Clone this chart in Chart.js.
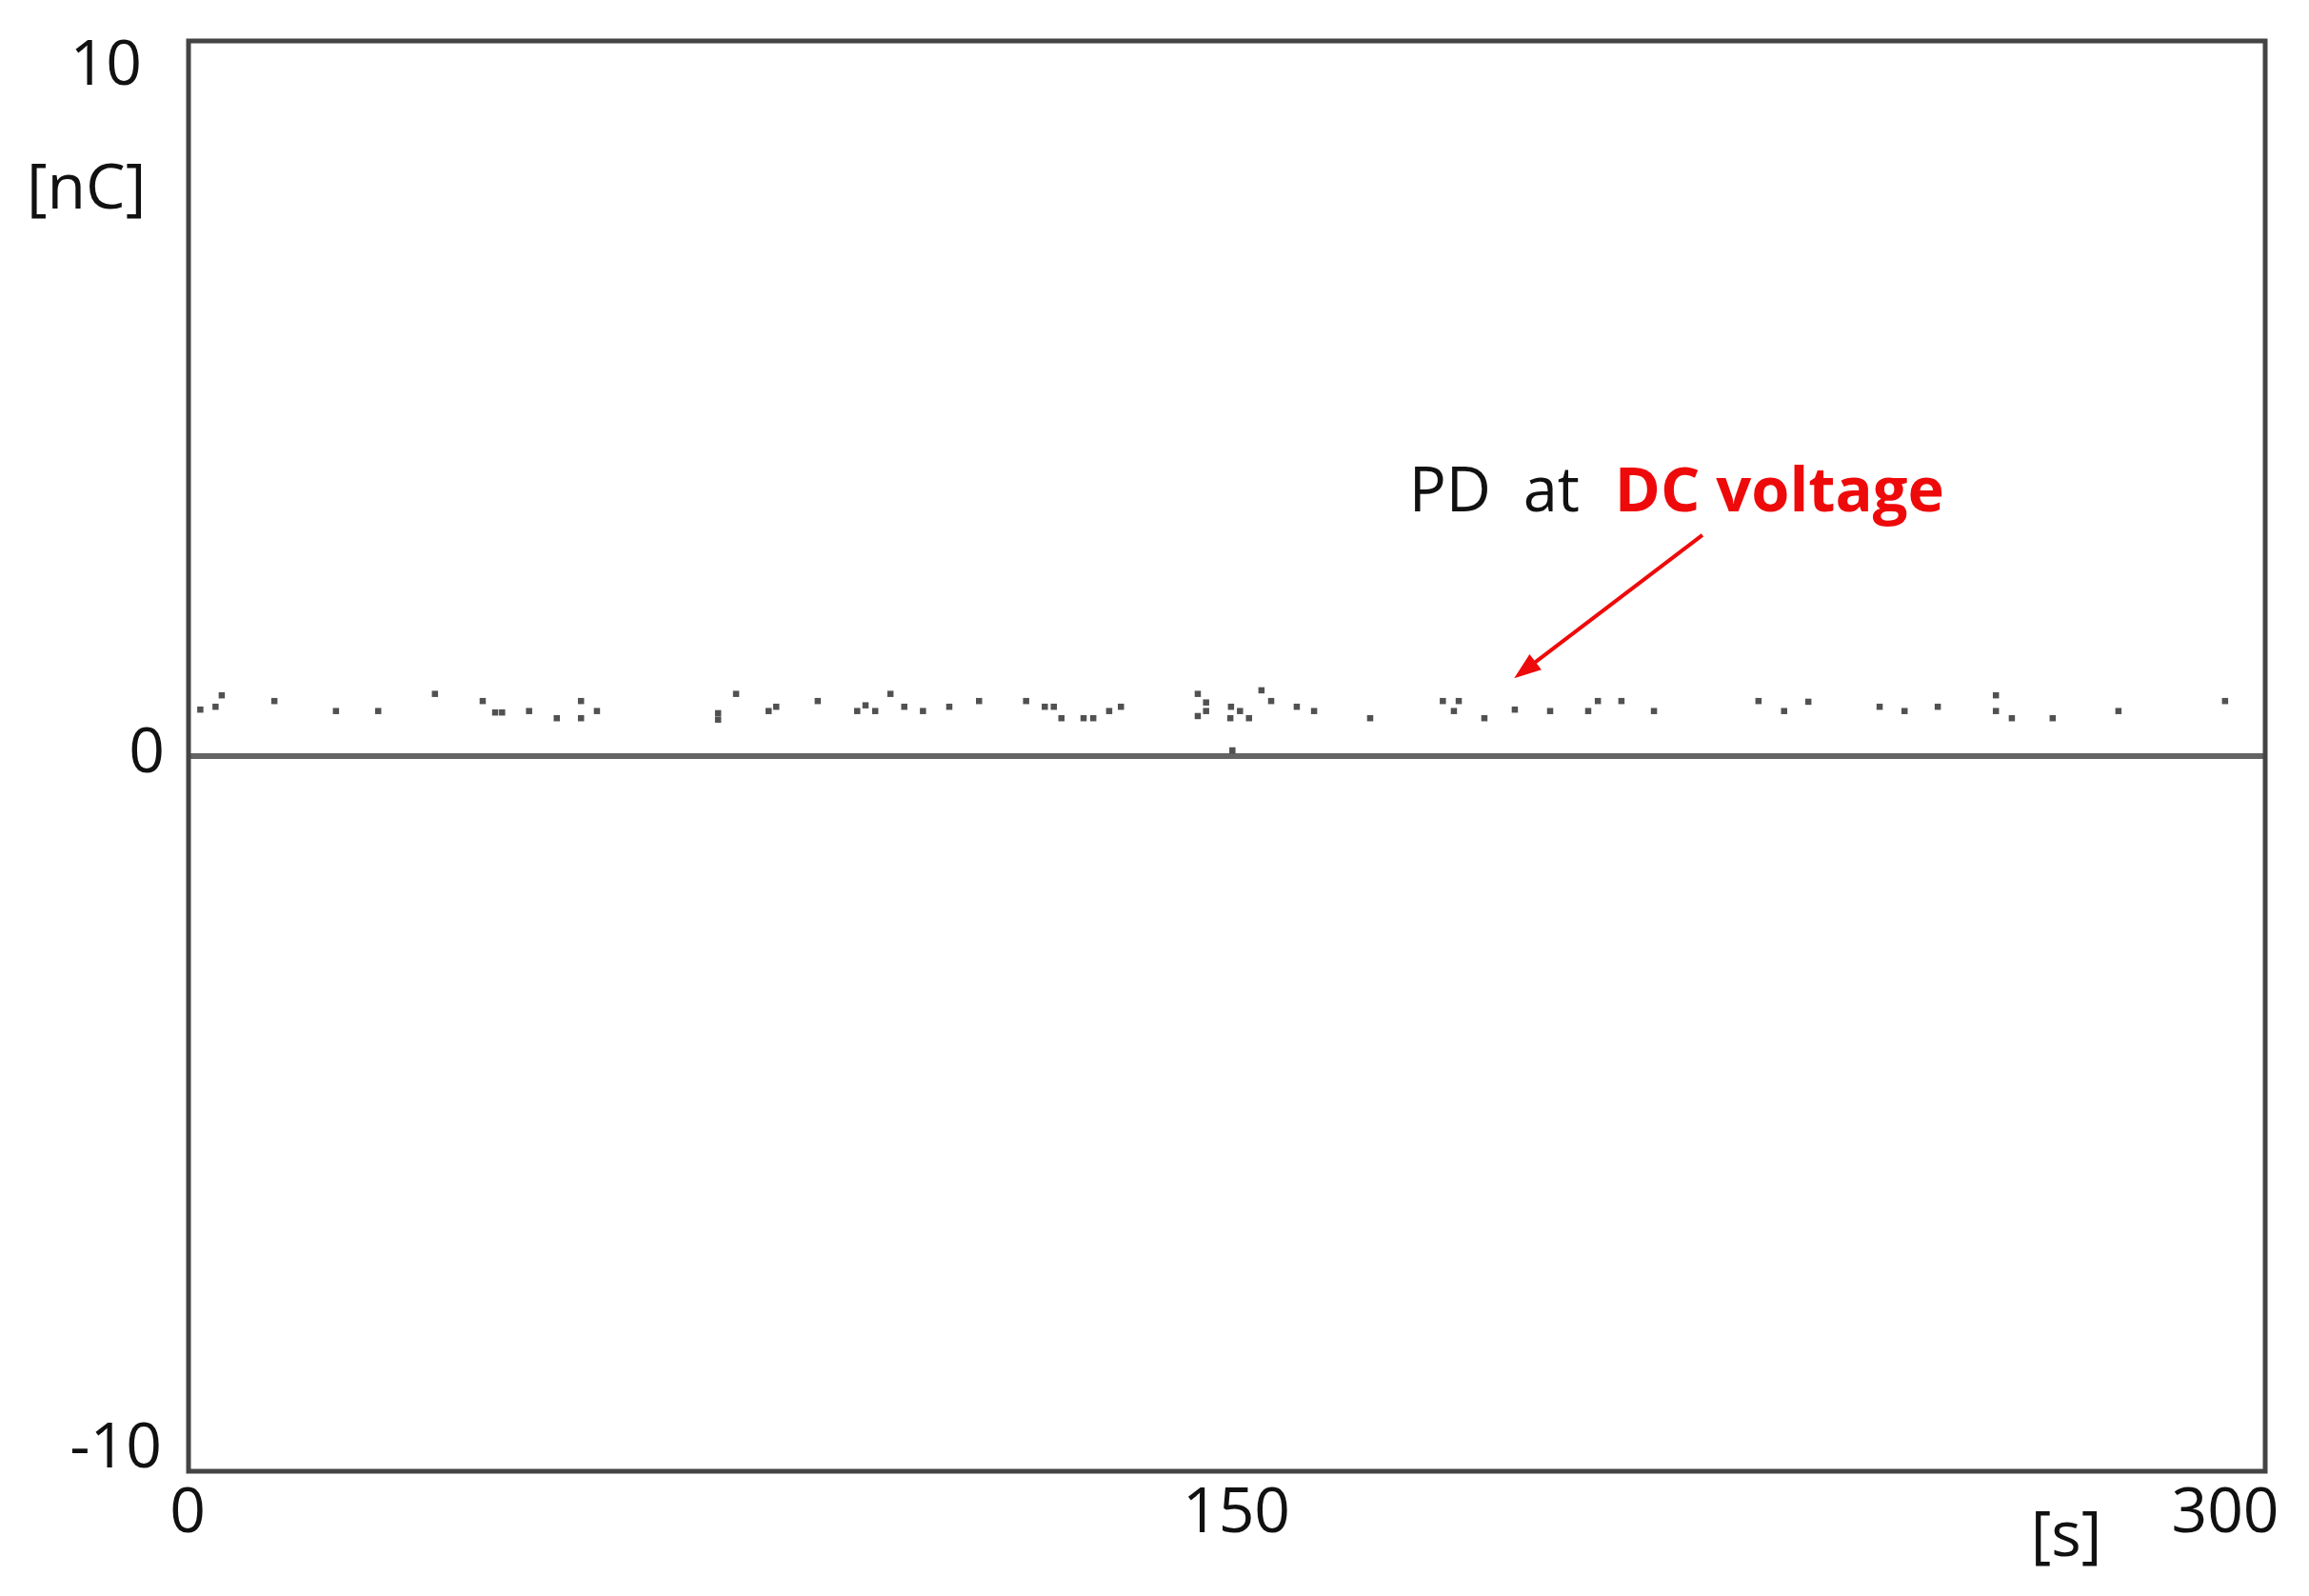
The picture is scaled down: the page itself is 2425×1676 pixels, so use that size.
<!DOCTYPE html>
<html>
<head>
<meta charset="utf-8">
<title>PD at DC voltage</title>
<script src="https://cdn.jsdelivr.net/npm/chart.js@4.4.1/dist/chart.umd.min.js"></script>
<style>
    body { margin: 0; background: #fff; }
    canvas { display: block; }
</style>
</head>
<body>
<canvas id="pdChart" width="2425" height="1676"></canvas>
<script>
// time of each discharge [s]
var times = [
    1.7, 3.9, 4.8, 12.4, 21.3, 27.4, 35.6, 42.5, 44.3, 45.3, 49.2, 53.2, 56.7, 56.7, 59.0,
    76.5, 76.5, 79.1, 83.8, 84.9, 90.9, 96.6, 97.8, 99.2, 101.4, 103.4, 106.1, 109.9, 114.2, 121.0,
    123.7, 125.0, 126.1, 129.3, 130.7, 133.0, 134.7, 145.8, 145.8, 147.0, 147.0, 150.6, 150.5,
    151.9, 153.2, 150.8, 155.0, 156.4, 160.1, 162.6, 170.7, 181.2, 183.5, 182.8,
    187.2, 191.6, 196.7, 202.2, 203.6, 207.0, 211.7, 226.8, 230.5, 234.0, 244.3, 247.9,
    252.7, 261.1, 261.1, 263.4, 269.3, 278.8, 294.2
];
// charge of each discharge [nC]
var charges = [
    0.65, 0.69, 0.85, 0.77, 0.63, 0.63, 0.87, 0.77, 0.61, 0.61, 0.63, 0.53, 0.77, 0.53, 0.63,
    0.60, 0.51, 0.87, 0.63, 0.69, 0.77, 0.63, 0.71, 0.63, 0.87, 0.69, 0.63, 0.69, 0.77, 0.77,
    0.69, 0.69, 0.53, 0.53, 0.53, 0.63, 0.69, 0.87, 0.56, 0.75, 0.63, 0.69, 0.53,
    0.63, 0.53, 0.08, 0.92, 0.77, 0.69, 0.63, 0.53, 0.77, 0.77, 0.63,
    0.53, 0.65, 0.63, 0.63, 0.77, 0.77, 0.63, 0.77, 0.63, 0.76, 0.69, 0.63,
    0.69, 0.85, 0.63, 0.53, 0.53, 0.63, 0.77
];

var xTicks = [0, 150, 300];
var yTicks = [-10, 0, 10];
var xTitle = '[s]';
var yTitle = '[nC]';

// annotation, in data units
var noteText = ['PD  at  ', 'DC voltage'];
var notePos = { x: 176.3, y: 3.42 };
var arrowFrom = { x: 218.7, y: 3.09 };
var arrowTo = { x: 191.5, y: 1.09 };

var points = times.map(function (t, i) {
    return { x: t, y: charges[i] };
});

var tickFont = '66px "Open Sans"';

var framePlugin = {
    id: 'frame',
    beforeDatasetsDraw: function (chart) {
        var ctx = chart.ctx, a = chart.chartArea;
        var ys = chart.scales.y;
        ctx.save();
        // zero line
        var y0 = ys.getPixelForValue(0);
        ctx.strokeStyle = '#646464';
        ctx.lineWidth = 6;
        ctx.beginPath();
        ctx.moveTo(a.left, y0);
        ctx.lineTo(a.right, y0);
        ctx.stroke();
        ctx.restore();
    },
    afterDraw: function (chart) {
        var ctx = chart.ctx, a = chart.chartArea;
        var xs = chart.scales.x, ys = chart.scales.y;
        ctx.save();
        // box
        ctx.strokeStyle = '#444';
        ctx.lineWidth = 5;
        ctx.strokeRect(a.left, a.top, a.right - a.left, a.bottom - a.top);

        // tick labels
        ctx.fillStyle = '#111';
        ctx.font = tickFont;
        ctx.textBaseline = 'middle';
        ctx.textAlign = 'right';
        var yOff = { '10': [-49, 27], '0': [-25, -2], '-10': [-28, -23] };
        yTicks.forEach(function (v) {
            var o = yOff[String(v)];
            ctx.fillText(String(v), a.left + o[0], ys.getPixelForValue(v) + o[1]);
        });
        ctx.textAlign = 'center';
        var xOff = { '0': -1, '150': 10, '300': -42 };
        xTicks.forEach(function (v) {
            ctx.fillText(String(v), xs.getPixelForValue(v) + xOff[String(v)], a.bottom + 45);
        });
        // axis titles
        ctx.textAlign = 'left';
        ctx.fillText(yTitle, 28, 200);
        ctx.textAlign = 'center';
        ctx.fillText(xTitle, 2170, 1615);

        // annotation text
        ctx.textAlign = 'left';
        ctx.textBaseline = 'alphabetic';
        var tx = xs.getPixelForValue(notePos.x), ty = ys.getPixelForValue(notePos.y);
        ctx.font = '65px "Open Sans"';
        ctx.fillStyle = '#111';
        ctx.fillText(noteText[0], tx, ty);
        tx += ctx.measureText(noteText[0]).width + 3;
        ctx.font = 'bold 65px "Open Sans"';
        ctx.fillStyle = '#ee0a0a';
        ctx.fillText(noteText[1], tx, ty);

        // arrow
        var x1 = xs.getPixelForValue(arrowFrom.x), y1 = ys.getPixelForValue(arrowFrom.y);
        var x2 = xs.getPixelForValue(arrowTo.x), y2 = ys.getPixelForValue(arrowTo.y);
        var ang = Math.atan2(y2 - y1, x2 - x1);
        ctx.strokeStyle = '#ee0a0a';
        ctx.lineWidth = 4;
        ctx.beginPath();
        ctx.moveTo(x1, y1);
        ctx.lineTo(x2 - 20 * Math.cos(ang), y2 - 20 * Math.sin(ang));
        ctx.stroke();
        ctx.fillStyle = '#ee0a0a';
        ctx.beginPath();
        ctx.moveTo(x2, y2);
        ctx.lineTo(x2 - 30 * Math.cos(ang - 0.35), y2 - 30 * Math.sin(ang - 0.35));
        ctx.lineTo(x2 - 30 * Math.cos(ang + 0.35), y2 - 30 * Math.sin(ang + 0.35));
        ctx.closePath();
        ctx.fill();
        ctx.restore();
    }
};

new Chart(document.getElementById('pdChart'), {
    type: 'scatter',
    data: {
        datasets: [{
            label: 'PD',
            data: points,
            pointStyle: 'rect',
            pointRadius: 4.6,
            pointBorderWidth: 0,
            backgroundColor: 'rgba(50, 50, 50, 0.85)',
            borderColor: 'rgba(50, 50, 50, 0.85)'
        }]
    },
    options: {
        responsive: false,
        animation: false,
        layout: {
            padding: { left: 198, right: 46, top: 43, bottom: 131 }
        },
        plugins: {
            legend: { display: false },
            tooltip: { enabled: false }
        },
        scales: {
            x: { type: 'linear', min: 0, max: 300, display: false },
            y: { type: 'linear', min: -10, max: 10, display: false }
        }
    },
    plugins: [framePlugin]
});
</script>
</body>
</html>
